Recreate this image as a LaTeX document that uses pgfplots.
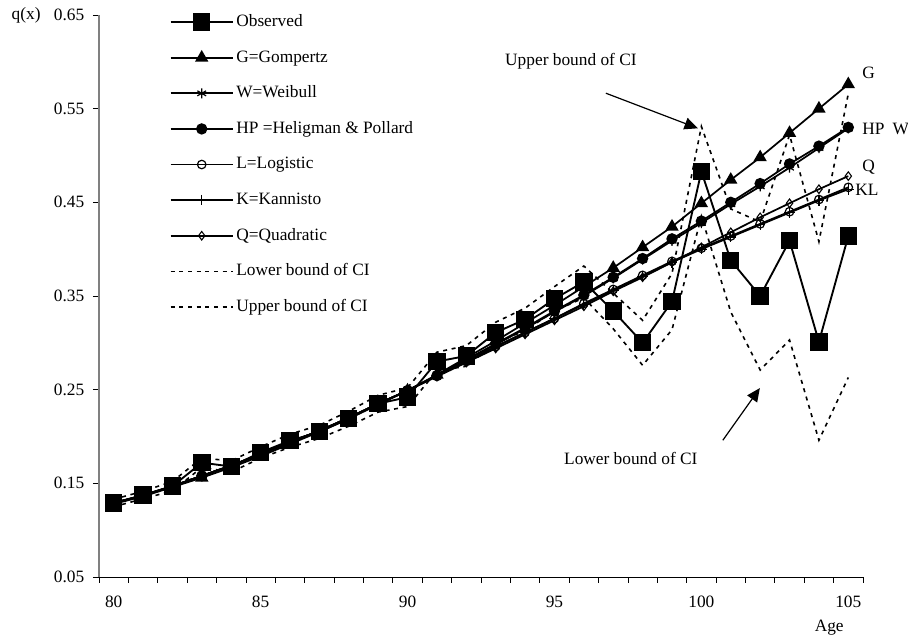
\documentclass[border=0pt]{standalone}
\usepackage{fontspec}
\setmainfont{Liberation Serif}
\usepackage{pgfplots}
\pgfplotsset{compat=1.18}
\usepackage{pgfplotstable}
\usetikzlibrary{arrows.meta}

% observed q(x), fitted models and bounds of the CI, by age
\pgfplotstableread{
age obs    G     W     HP    L     K     Q     lo     up
80  0.129  0.128 0.129 0.129 0.129 0.129 0.129 0.125  0.133
81  0.1375 0.136 0.137 0.137 0.137 0.137 0.137 0.1335 0.1415
82  0.147  0.146 0.147 0.147 0.147 0.147 0.147 0.142  0.152
83  0.172  0.156 0.158 0.158 0.158 0.158 0.158 0.167  0.177
84  0.168  0.167 0.169 0.169 0.169 0.169 0.169 0.162  0.174
85  0.183  0.179 0.181 0.181 0.181 0.181 0.181 0.177  0.189
86  0.1955 0.192 0.194 0.194 0.194 0.194 0.194 0.1885 0.2025
87  0.205  0.205 0.206 0.206 0.206 0.206 0.206 0.198  0.212
88  0.219  0.219 0.220 0.220 0.220 0.220 0.220 0.211  0.227
89  0.235  0.234 0.235 0.235 0.235 0.235 0.235 0.226  0.244
90  0.242  0.249 0.249 0.249 0.249 0.249 0.249 0.232  0.252
91  0.280  0.266 0.265 0.265 0.265 0.265 0.264 0.270  0.290
92  0.286  0.284 0.282 0.282 0.280 0.280 0.279 0.275  0.297
93  0.311  0.302 0.298 0.299 0.296 0.296 0.294 0.300  0.322
94  0.325  0.321 0.315 0.316 0.311 0.311 0.309 0.313  0.337
95  0.347  0.340 0.333 0.334 0.326 0.326 0.324 0.334  0.360
96  0.365  0.360 0.350 0.351 0.342 0.341 0.339 0.348  0.382
97  0.334  0.380 0.369 0.370 0.357 0.356 0.355 0.315  0.353
98  0.300  0.402 0.389 0.390 0.372 0.371 0.370 0.276  0.324
99  0.344  0.424 0.409 0.411 0.387 0.386 0.386 0.314  0.374
100 0.483  0.449 0.428 0.430 0.401 0.400 0.402 0.435  0.531
101 0.388  0.474 0.448 0.450 0.414 0.413 0.418 0.333  0.443
102 0.350  0.498 0.467 0.470 0.427 0.426 0.434 0.271  0.429
103 0.409  0.524 0.487 0.491 0.440 0.439 0.449 0.303  0.522
104 0.301  0.550 0.508 0.510 0.453 0.452 0.464 0.196  0.408
105 0.414  0.576 0.529 0.530 0.466 0.464 0.478 0.263  0.566
}\qdata

\begin{document}
\begin{tikzpicture}
\useasboundingbox (-74.25pt,-46.5pt) rectangle (606.75pt,432.75pt);
\begin{axis}[
    at={(0pt,0pt)}, anchor=south west,
    scale only axis,
    width=573pt, height=421.5pt,
    xmin=79.5, xmax=105.5,
    ymin=0.05, ymax=0.65,
    axis x line=bottom, axis y line=left,
    axis line style={-},
    x axis line style={black, line width=0.7pt},
    y axis line style={gray, line width=0.9pt},
    xtick={80,85,90,95,100,105},
    xticklabels={80,85,90,95,100,105},
    major x tick style={draw=none},
    minor xtick={79.5,80.5,...,105.5},
    ytick={0.05,0.15,0.25,0.35,0.45,0.55,0.65},
    yticklabels={0.05,0.15,0.25,0.35,0.45,0.55,0.65},
    tick align=outside,
    major tick length=4.5pt, minor tick length=4.5pt,
    tick style={black, line width=0.6pt},
    ticklabel style={font=\fontsize{13}{15}\selectfont},
    xticklabel style={yshift=-6pt},
    yticklabel style={xshift=-3pt},
    /pgf/number format/assume math mode=true,
    clip=false,
    legend cell align=left,
    legend image code/.code={
        \draw[mark repeat=2,mark phase=2,#1]
            plot coordinates {(0pt,0pt) (23.25pt,0pt) (46.5pt,0pt)};
    },
    legend style={draw=none, fill=none,
        at={(axis cs:81.9,0.651)}, anchor=north west,
        font=\fontsize{13}{15}\selectfont,
        row sep=15.2pt, inner sep=0pt,
        nodes={text height=9pt, text depth=2.5pt, inner ysep=0pt}},
]
\addplot[black, line width=1.4pt, mark=square*, mark size=5.8pt] table[x=age, y=obs] {\qdata};
\addplot[black, line width=1.3pt, mark=triangle*, mark size=4.5pt] table[x=age, y=G] {\qdata};
\addplot[black, line width=1.3pt, mark=asterisk, mark size=3.8pt, mark options={line width=0.9pt}] table[x=age, y=W] {\qdata};
\addplot[black, line width=1.3pt, mark=*, mark size=3.6pt] table[x=age, y=HP] {\qdata};
\addplot[black, line width=1.3pt, mark=o, mark size=3.2pt, mark options={fill=white, line width=0.9pt}] table[x=age, y=L] {\qdata};
\addplot[black, line width=1.3pt, mark=+, mark size=4pt, mark options={line width=0.9pt}] table[x=age, y=K] {\qdata};
\addplot[black, line width=1.3pt, mark=diamond, mark size=3.2pt, mark options={fill=white, line width=0.8pt}] table[x=age, y=Q] {\qdata};
\addplot[black, dash pattern=on 3pt off 3.5pt, line width=1.2pt] table[x=age, y=lo] {\qdata};
\addplot[black, dash pattern=on 3pt off 3.5pt, line width=1.2pt] table[x=age, y=up] {\qdata};
\legend{Observed, G=Gompertz, W=Weibull, HP =Heligman \& Pollard, L=Logistic,
    K=Kannisto, Q=Quadratic, Lower bound of CI, Upper bound of CI}

\begin{scope}[font=\fontsize{13}{15}\selectfont]
\node at (axis cs:95.56,0.6006) {Upper bound of CI};
\draw[line width=0.9pt, -{Triangle[length=10pt,width=9pt]}]
    (axis cs:96.75,0.5665) -- (axis cs:99.88,0.529);
\node at (axis cs:97.6,0.176) {Lower bound of CI};
\draw[line width=0.9pt, -{Triangle[length=10pt,width=9pt]}]
    (axis cs:100.73,0.196) -- (axis cs:101.99,0.2517);
\node[anchor=west, inner sep=0pt] at (axis cs:105.47,0.588) {G};
\node[anchor=west, inner sep=0pt] at (axis cs:105.47,0.528) {HP\hspace{6pt}W};
\node[anchor=west, inner sep=0pt] at (axis cs:105.47,0.4876) {Q};
\node[anchor=west, inner sep=0pt] at (axis cs:105.23,0.463) {KL};
\node at (axis cs:77.02,0.65) {q(x)};
\node at (axis cs:104.35,-0.0044) {Age};
\end{scope}
\end{axis}
\end{tikzpicture}
\end{document}
